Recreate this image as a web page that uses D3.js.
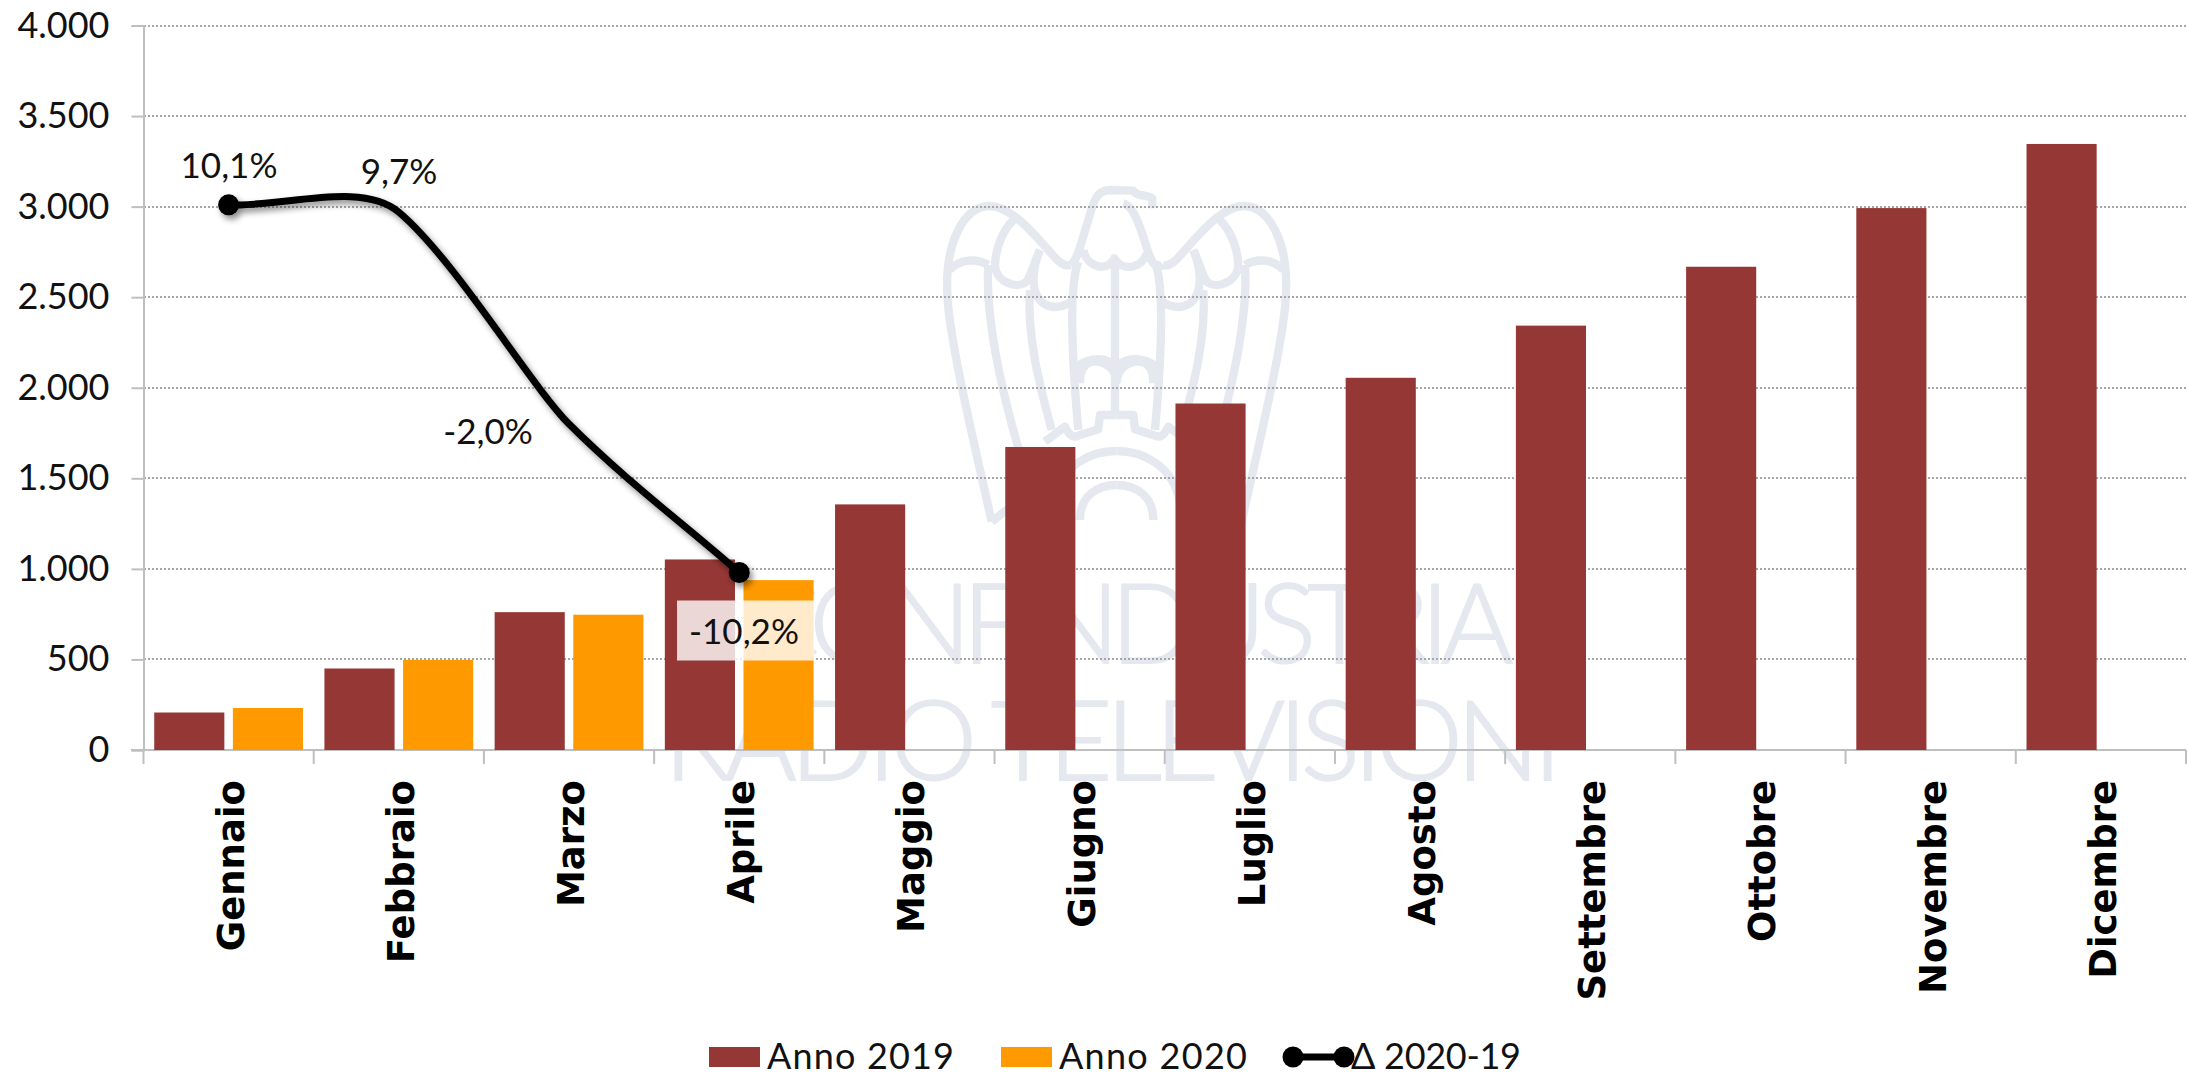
<!DOCTYPE html>
<html><head><meta charset="utf-8">
<script src="https://cdnjs.cloudflare.com/ajax/libs/d3/7.8.5/d3.min.js"></script>
<style>
html,body{margin:0;padding:0;background:#fff}
svg{display:block}
text{font-family:Lato,"Open Sans",sans-serif;fill:#111}
</style></head><body>
<svg id="c" width="2188" height="1074"></svg>
<script>
const months=["Gennaio","Febbraio","Marzo","Aprile","Maggio","Giugno","Luglio","Agosto","Settembre","Ottobre","Novembre","Dicembre"];
const anno2019=[207,450,761,1052,1356,1673,1913,2055,2343,2668,2992,3346];
const anno2020=[232,498,747,938];
const delta=[10.1,9.7,-2.0,-10.2];
const deltaLabels=["10,1%","9,7%","-2,0%","-10,2%"];
const yTicks=[0,500,1000,1500,2000,2500,3000,3500,4000];

const svg=d3.select("#c");
const x=d3.scaleBand().domain(months).range([143.5,2186]);
const y=d3.scaleLinear().domain([0,4000]).range([750,25.5]);
const yPct=d3.scaleLinear().domain([-20,20]).range([750,25.5]);
const fmt=v=>d3.format(",")(v).replace(/,/g,".");
const barW=x.bandwidth()*0.412, gap=x.bandwidth()*0.05;
const cx=m=>x(m)+x.bandwidth()/2;

// spreadsheet-like smoothing, from the scaled points
function smoothPath(pts){
  const n=pts.length, s=[];
  for(let i=0;i<n-1;i++) s.push((pts[i+1][1]-pts[i][1])/(pts[i+1][0]-pts[i][0]));
  const m=pts.map((p,i)=>i===0?s[0]:i===n-1?s[n-2]:s[i-1]/3+s[i]*2/3);
  const p=d3.path(); p.moveTo(pts[0][0],pts[0][1]);
  for(let i=0;i<n-1;i++){
    const h=pts[i+1][0]-pts[i][0], a=0.33*h, b=(i===n-2?0.33:0.22)*h;
    p.bezierCurveTo(pts[i][0]+a,pts[i][1]+a*m[i],pts[i+1][0]-b,pts[i+1][1]-b*m[i+1],pts[i+1][0],pts[i+1][1]);
  }
  return p.toString();
}

// watermark: eagle logo and name
const wmColor="#e5e8ef";
const logo=svg.append("g").attr("transform","translate(920,170) scale(0.3333)")
  .attr("fill","none").attr("stroke",wmColor).attr("stroke-width",25).attr("stroke-linejoin","round");
const half=[
 "M215,1055 C165,830 85,500 82,370 C75,220 130,112 205,108 C270,105 340,190 385,240 C410,270 430,292 452,285",
 "M215,1055 L285,1000",
 "M90,300 C120,265 170,265 205,285",
 "M205,285 C195,430 240,650 300,850",
 "M280,150 C240,190 225,250 225,290 C230,335 290,360 320,335 C335,310 345,270 360,240",
 "M360,240 C335,300 330,370 370,400 C400,420 430,410 455,395",
 "M330,360 C320,500 360,650 395,780",
 "M475,275 C450,340 450,500 475,780",
 "M375,815 L435,770 C450,800 460,805 480,795 L535,778 L540,735 L590,735",
 "M590,590 C560,560 510,560 468,592",
 "M590,640 C590,600 560,575 525,575 C490,575 480,610 480,640",
 "M400,1000 C420,880 520,843 590,843",
 "M480,1050 C480,980 530,945 590,945"
];
logo.selectAll(".l").data(half).join("path").attr("d",d=>d);
logo.selectAll(".r").data(half).join("path").attr("d",d=>d).attr("transform","translate(1180,0) scale(-1,1)");
logo.selectAll(".h").data([
 "M452,285 C475,270 485,210 505,150 C520,100 525,62 570,60 L640,62 C650,80 690,75 697,85 L697,115",
 "M610,100 C650,110 670,210 690,260 C700,285 710,295 728,285",
 "M490,240 C500,290 560,310 583,265 C610,310 670,290 680,250",
 "M585,280 L585,735"
]).join("path").attr("d",d=>d);
svg.append("g").selectAll("text").data([["CONFINDUSTRIA",745,663,768],["RADIO TELEVISIONI",664,780,898]]).join("text")
 .attr("x",d=>d[1]).attr("y",d=>d[2]).attr("textLength",d=>d[3]).attr("lengthAdjust","spacing")
 .style("font-size","110px").style("font-weight",300).style("fill",wmColor)
 .attr("stroke",wmColor).attr("stroke-width",2).text(d=>d[0]);

// grid
svg.append("g").attr("shape-rendering","crispEdges").selectAll("line").data(yTicks.slice(1)).join("line")
 .attr("x1",143.5).attr("x2",2186).attr("y1",d=>y(d)).attr("y2",d=>y(d))
 .attr("stroke","#a6a6a6").attr("stroke-width",2).attr("stroke-dasharray","2 2");

// axes
const yAxis=d3.axisLeft(y).tickValues(yTicks).tickFormat(fmt).tickSize(12).tickPadding(22);
const gy=svg.append("g").attr("transform","translate(143.5,0)").call(yAxis);
gy.selectAll("path,line").attr("stroke","#bfbfbf").attr("stroke-width",2);
gy.selectAll("text").style("font-size","36px").style("font-weight",400).attr("font-family",null).style("fill","#111");

const bounds=months.map(m=>x(m)).concat([x.range()[1]]);
const gx=svg.append("g");
gx.append("line").attr("x1",131).attr("x2",2186).attr("y1",750).attr("y2",750).attr("stroke","#bfbfbf").attr("stroke-width",2);
gx.selectAll(".t").data(bounds).join("line").attr("x1",d=>d).attr("x2",d=>d).attr("y1",750).attr("y2",764).attr("stroke","#bfbfbf").attr("stroke-width",2);
gx.selectAll("text").data(months).join("text")
 .attr("transform",m=>`translate(${cx(m)+15},780) rotate(-90)`)
 .attr("text-anchor","end")
 .style("font-family","'DejaVu Sans'").style("font-weight",700).style("font-size","37px").style("fill","#000").text(m=>m);

// bars
const gb=svg.append("g");
gb.selectAll(".a").data(months).join("rect").attr("x",m=>cx(m)-gap/2-barW).attr("width",barW)
 .attr("y",(m,i)=>y(anno2019[i])).attr("height",(m,i)=>750-y(anno2019[i])).attr("fill","#953735");
gb.selectAll(".b").data(anno2020).join("rect").attr("x",(d,i)=>cx(months[i])+gap/2).attr("width",barW)
 .attr("y",d=>y(d)).attr("height",d=>750-y(d)).attr("fill","#ff9900");

// line
const defs=svg.append("defs");
const f=defs.append("filter").attr("id","sh").attr("x","-20%").attr("y","-20%").attr("width","140%").attr("height","140%");
f.append("feDropShadow").attr("dx",3).attr("dy",4).attr("stdDeviation",3).attr("flood-color","#000").attr("flood-opacity",0.45);
const gl=svg.append("g").attr("filter","url(#sh)");
gl.append("path").attr("d",smoothPath(delta.map((d,i)=>[cx(months[i]),yPct(d)]))).attr("fill","none").attr("stroke","#000").attr("stroke-width",7);
gl.selectAll("circle").data([0,3]).join("circle").attr("cx",i=>cx(months[i])).attr("cy",i=>yPct(delta[i])).attr("r",10.5).attr("fill","#000");

// labels
svg.append("rect").attr("x",677).attr("y",600.5).attr("width",137).attr("height",60).attr("fill","#fff").attr("fill-opacity",0.8);
svg.append("g").selectAll("text").data(delta).join("text")
 .attr("x",(d,i)=>[229,399,488,744][i]).attr("y",(d,i)=>[178,184,444,644][i])
 .attr("text-anchor","middle").style("font-size","35px").text((d,i)=>deltaLabels[i]);

// legend
const lg=svg.append("g");
lg.append("rect").attr("x",709).attr("y",1047).attr("width",51).attr("height",20).attr("fill","#953735");
lg.append("rect").attr("x",1001).attr("y",1047).attr("width",51).attr("height",20).attr("fill","#ff9900");
lg.append("line").attr("x1",1293).attr("x2",1344).attr("y1",1057).attr("y2",1057).attr("stroke","#000").attr("stroke-width",7);
lg.selectAll("circle").data([1293,1344]).join("circle").attr("cx",d=>d).attr("cy",1057).attr("r",10.5).attr("fill","#000");
lg.selectAll("text").data([["Anno 2019",767,187],["Anno 2020",1059,188],["Δ 2020-19",1351,170]]).join("text")
 .attr("x",d=>d[1]).attr("y",1069).attr("textLength",d=>d[2]).attr("lengthAdjust","spacing").style("font-size","36px").text(d=>d[0]);
</script></body></html>
